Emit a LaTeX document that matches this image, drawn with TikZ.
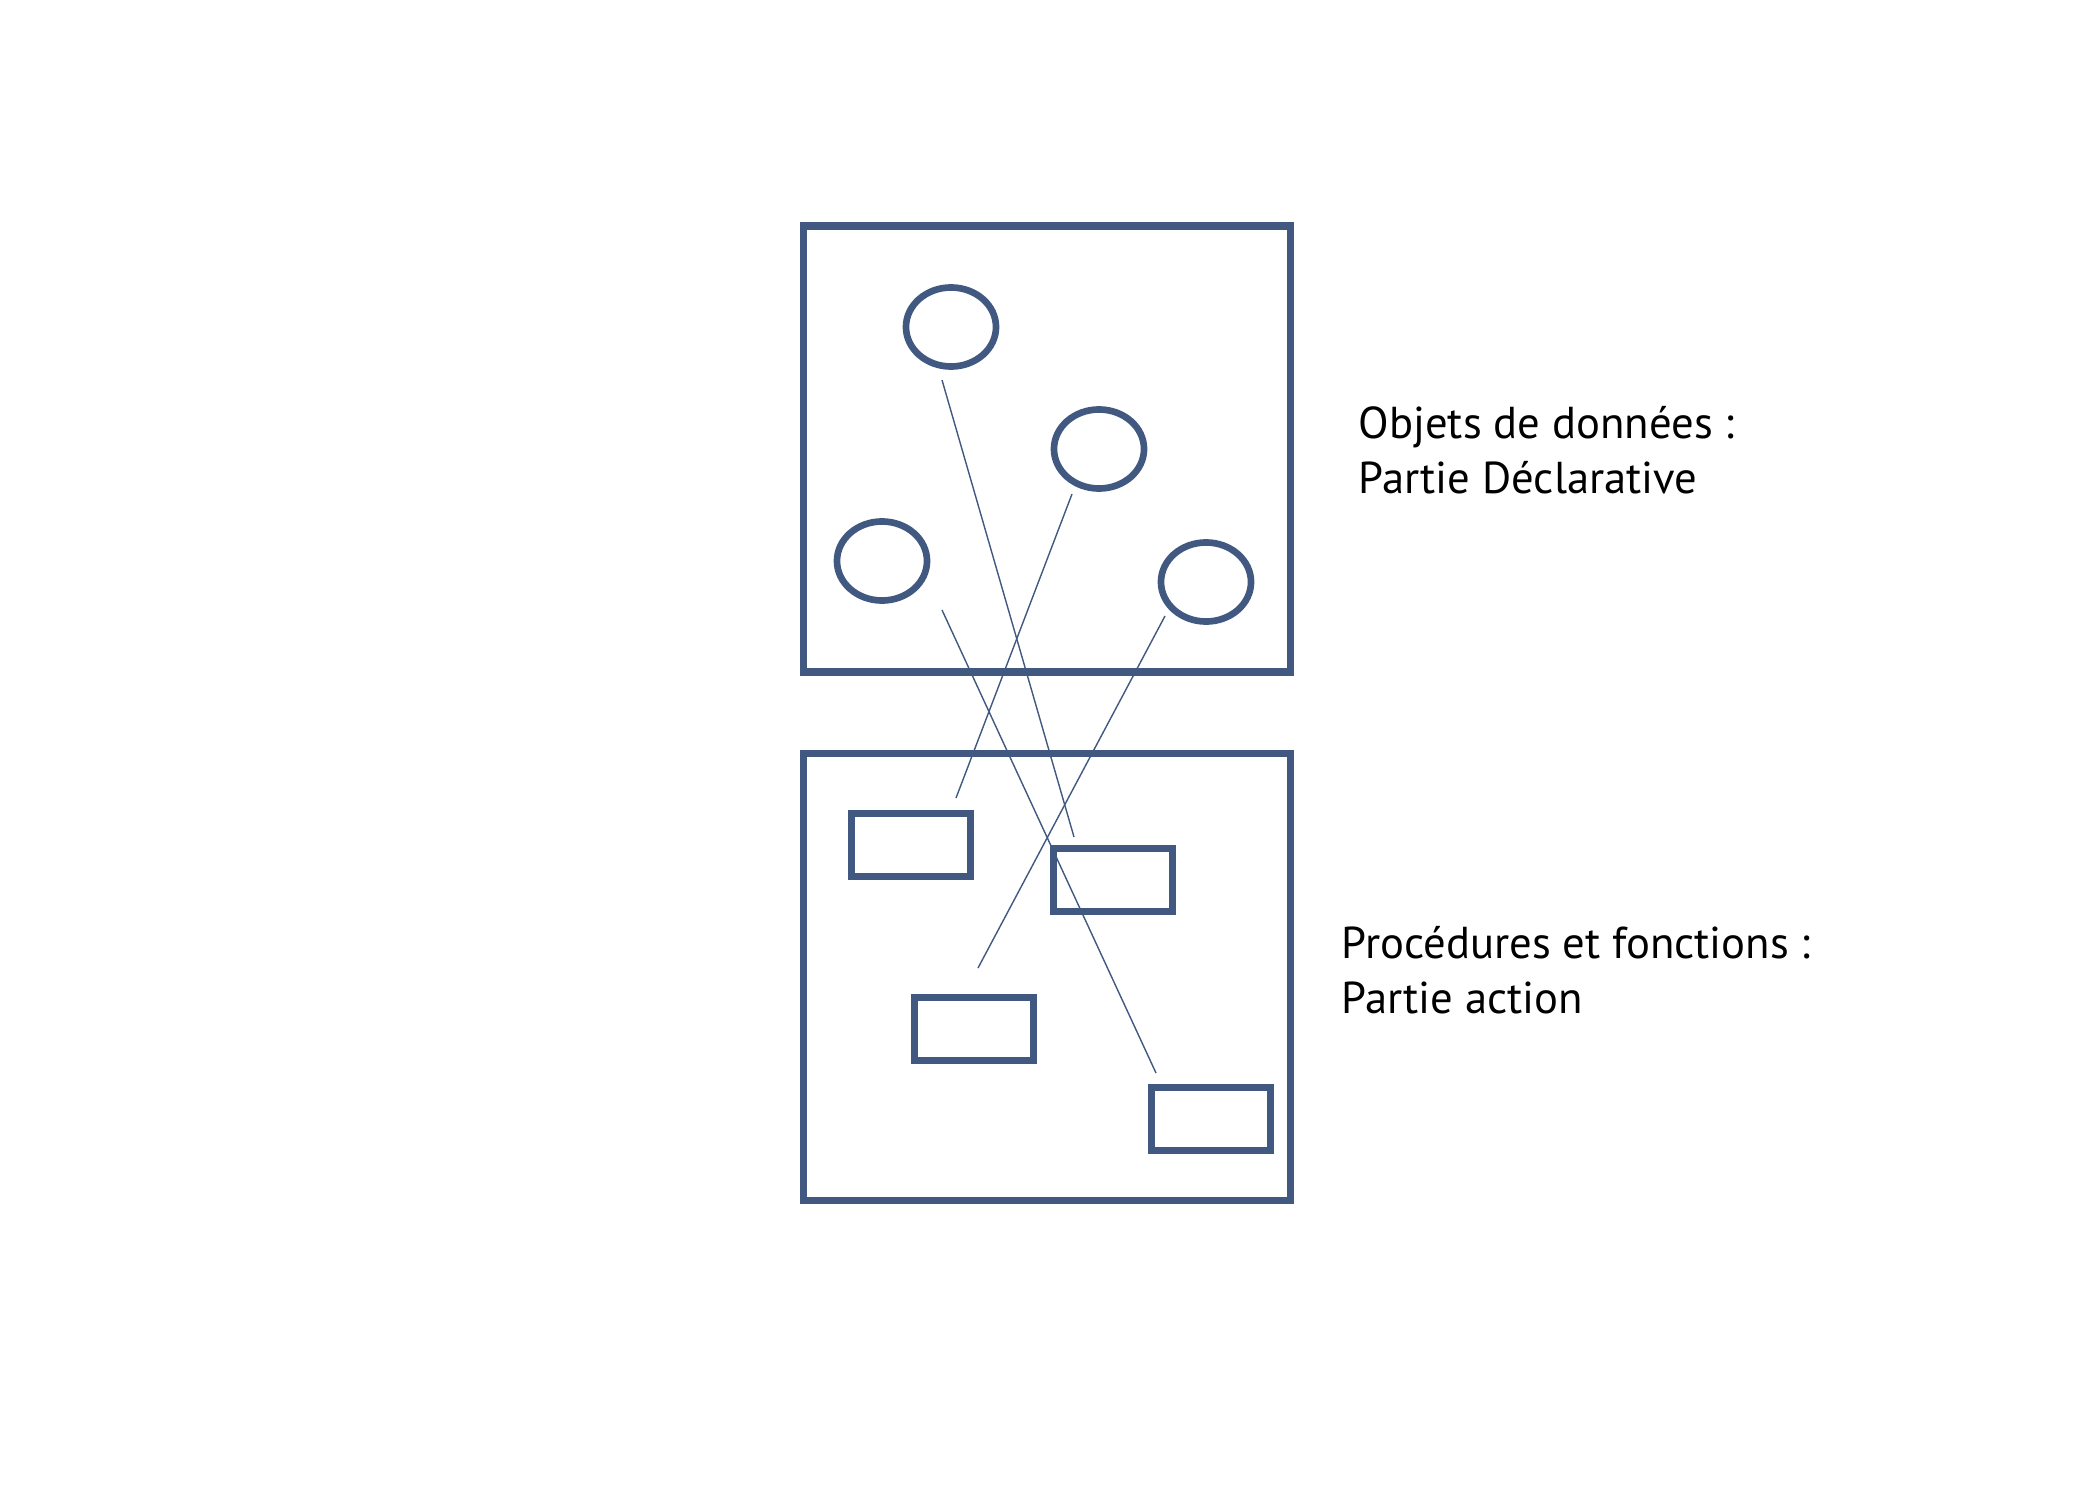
\documentclass[tikz,border=0pt]{standalone}
\usepackage{fontspec}
\setmainfont{PT Sans}
\usetikzlibrary{shapes.geometric,positioning}
\definecolor{slate}{RGB}{65,89,128}
\tikzset{
  frame/.style={draw=slate,line width=2pt},
  datum/.style={ellipse,draw=slate,line width=1.9pt,minimum width=0.90cm,minimum height=0.79cm,inner sep=0pt},
  proc/.style={rectangle,draw=slate,line width=2pt,minimum width=1.19cm,minimum height=0.63cm,inner sep=0pt},
  link/.style={draw=slate,line width=0.4pt},
  legend/.style={anchor=base west,inner sep=0pt,align=left,font=\fontsize{12.7}{15.6}\selectfont},
}
\begin{document}
\begin{tikzpicture}[x=0.01cm,y=-0.01cm]
  \useasboundingbox (0,0) rectangle (2100,1500);
  % the two parts
  \draw[frame] (803.5,226) rectangle (1290.5,672);
  \draw[frame] (803.5,753.5) rectangle (1290.5,1200.5);
  % data objects
  \node[datum] (d1) at (951,327) {};
  \node[datum] (d2) at (1099,449) {};
  \node[datum] (d3) at (882,561) {};
  \node[datum] (d4) at (1206,582) {};
  % procedures
  \node[proc] (p1) at (911,845) {};
  \node[proc] (p2) at (1113,880) {};
  \node[proc] (p3) at (974,1029) {};
  \node[proc] (p4) at (1211,1119) {};
  % line ends
  \coordinate (d1 out) at (942,380);
  \coordinate (d2 out) at (1072,494);
  \coordinate (d3 out) at (942,610);
  \coordinate (d4 out) at (1165,616);
  \coordinate (p1 in) at (956,798);
  \coordinate (p2 in) at (1074,837);
  \coordinate (p3 in) at (978,968);
  \coordinate (p4 in) at (1156,1073);
  \draw[link] (d1 out) -- (p2 in);
  \draw[link] (d2 out) -- (p1 in);
  \draw[link] (d3 out) -- (p4 in);
  \draw[link] (d4 out) -- (p3 in);
  % labels
  \node[legend] (decl) at (1358,493) {Objets de données :\\Partie Déclarative};
  \node[legend] (act) at (1341,1013) {Procédures et fonctions :\\Partie action};
\end{tikzpicture}
\end{document}
